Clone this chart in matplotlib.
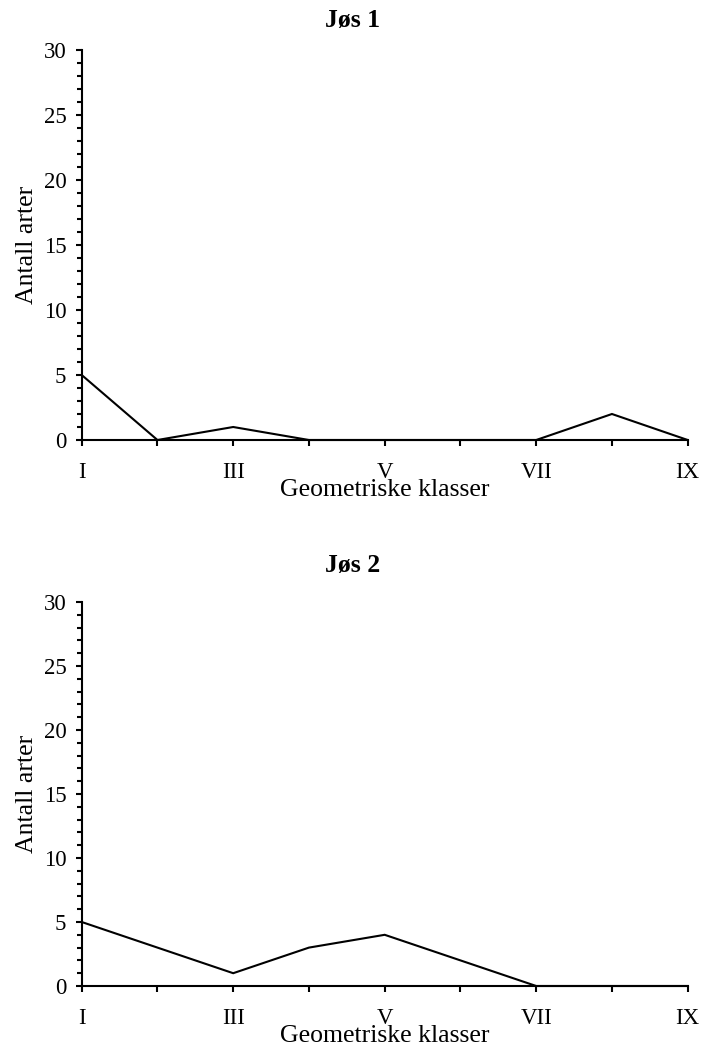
import matplotlib
matplotlib.use("Agg")
import matplotlib.pyplot as plt
from matplotlib.ticker import MultipleLocator

categories = ["I", "II", "III", "IV", "V", "VI", "VII", "VIII", "IX"]
jos1 = [5, 0, 1, 0, 0, 0, 0, 2, 0]
jos2 = [5, 3, 1, 3, 4, 2, 0, 0, 0]
titles = ["Jøs 1", "Jøs 2"]
series = [jos1, jos2]

plt.rcParams['font.family'] = ['Liberation Serif', 'DejaVu Serif']

W, H = 701, 1047
fig = plt.figure(figsize=(W / 100, H / 100), dpi=100)

# axes boxes in pixels: (left, top, right, bottom)
pix = [(81.7, 50, 687.7, 440), (81.7, 602, 687.7, 986)]
title_base = [27, 572]
title_cx = 353

for (l, t, r, b), tb, title, vals in zip(pix, title_base, titles, series):
    ax = fig.add_axes((l / W, 1 - b / H, (r - l) / W, (b - t) / H))
    x = list(range(len(categories)))
    ax.plot(x, vals, color='black', lw=1.5, clip_on=False, solid_joinstyle='miter')
    ax.set_xlim(0, len(categories) - 1)
    ax.set_ylim(0, 30)
    ax.set_xticks(x)
    ax.set_xticklabels([c if i % 2 == 0 else "" for i, c in enumerate(categories)])
    ax.yaxis.set_major_locator(MultipleLocator(5))
    ax.yaxis.set_minor_locator(MultipleLocator(1))
    for s in ['top', 'right']:
        ax.spines[s].set_visible(False)
    for s in ['left', 'bottom']:
        ax.spines[s].set_linewidth(1.5)
    ax.tick_params(axis='both', which='major', length=4.5, width=1.5, labelsize=16.5, direction='out')
    ax.tick_params(axis='y', which='minor', length=3.5, width=1.5)
    ax.tick_params(axis='x', pad=11)
    ax.tick_params(axis='y', pad=6.5)
    ax.set_xlabel("Geometriske klasser", fontsize=18.5, labelpad=-2.5)
    ax.set_ylabel("Antall arter", fontsize=18.5, labelpad=4)
    fig.text(title_cx / W, 1 - tb / H, title, fontsize=18.5, fontweight='bold',
             ha='center', va='baseline')

fig.savefig("out.png", dpi=100)
